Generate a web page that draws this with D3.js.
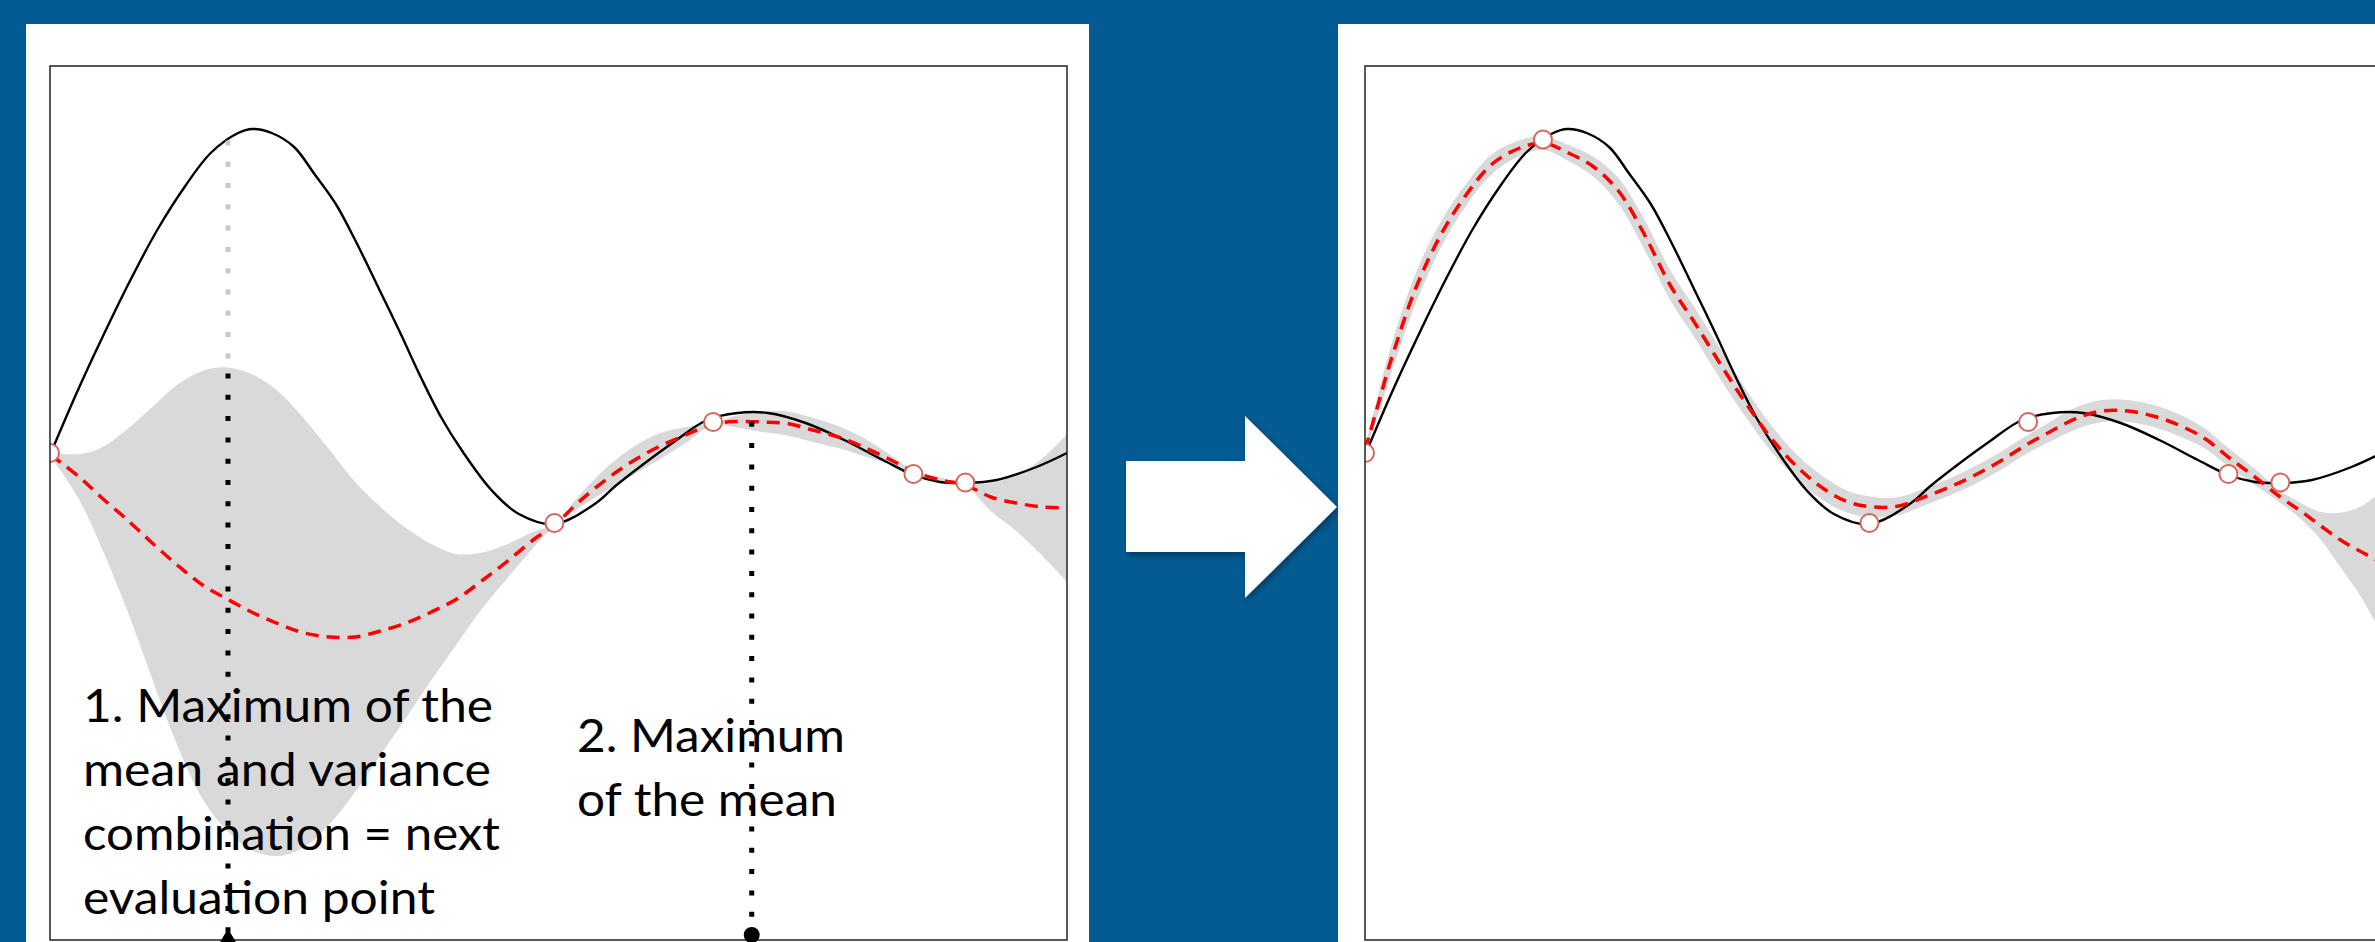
<!DOCTYPE html>
<html>
<head>
<meta charset="utf-8">
<script src="https://cdn.jsdelivr.net/npm/d3@7"></script>
<style>
	html, body { margin: 0; padding: 0; background: #045a92; overflow: hidden; }
	svg { display: block; }
</style>
</head>
<body>
<div id="viz"></div>
<script>
// true objective function (black line)
var trueX = [0, 0.0275, 0.054, 0.0796, 0.106, 0.133, 0.158, 0.185, 0.199, 0.218, 0.240, 0.260, 0.281, 0.302, 0.324, 0.344, 0.365, 0.385, 0.406, 0.434, 0.461, 0.496, 0.537, 0.556, 0.585, 0.612, 0.646, 0.676, 0.706, 0.743, 0.781, 0.819, 0.849, 0.875, 0.902, 0.931, 0.970, 1.0];
var trueY = [0.005, 0.33, 0.62, 0.885, 1.135, 1.35, 1.515, 1.615, 1.635, 1.615, 1.545, 1.41, 1.26, 1.06, 0.83, 0.62, 0.39, 0.19, 0.02, -0.17, -0.29, -0.34, -0.235, -0.15, -0.035, 0.065, 0.18, 0.215, 0.215, 0.165, 0.08, -0.02, -0.095, -0.13, -0.135, -0.12, -0.055, 0.015];

// evaluated points
var obsX = [0, 0.496, 0.652, 0.849, 0.900];
var obsY = [0.015, -0.335, 0.17, -0.09, -0.1325];
var nextX = 0.175;
var nextY = 1.5825;
var meanMaxX = 0.690;

// GP posterior, before the new point (left)
var gridA = [0, 0.01, 0.03, 0.05, 0.075, 0.1, 0.125, 0.15, 0.175, 0.2, 0.225, 0.25, 0.275, 0.3, 0.325, 0.35, 0.375, 0.4, 0.425, 0.45, 0.475, 0.496, 0.52, 0.55, 0.575, 0.6, 0.625, 0.652, 0.675, 0.7, 0.725, 0.75, 0.775, 0.8, 0.825, 0.849, 0.875, 0.9, 0.925, 0.95, 0.975, 1.0];
var meanA = [0.005, -0.03, -0.11, -0.205, -0.315, -0.4325, -0.545, -0.645, -0.7175, -0.785, -0.84, -0.885, -0.905, -0.905, -0.875, -0.835, -0.78, -0.715, -0.6225, -0.525, -0.42, -0.345, -0.23, -0.105, -0.02, 0.05, 0.105, 0.16, 0.1725, 0.17, 0.1625, 0.13, 0.095, 0.045, -0.015, -0.0775, -0.12, -0.145, -0.205, -0.235, -0.255, -0.26];
var sdA = [0.005, 0.04, 0.12, 0.245, 0.445, 0.675, 0.9, 1.07, 1.16, 1.19, 1.16, 1.07, 0.935, 0.775, 0.62, 0.475, 0.34, 0.225, 0.14, 0.085, 0.04, 0.005, 0.03, 0.06, 0.07, 0.065, 0.04, 0.005, 0.03, 0.05, 0.06, 0.06, 0.055, 0.045, 0.025, 0.005, 0.0125, 0.005, 0.07, 0.14, 0.24, 0.37];

// GP posterior, after the new point (right)
var gridB = [0, 0.0125, 0.025, 0.05, 0.075, 0.1, 0.125, 0.15, 0.175, 0.2, 0.225, 0.25, 0.275, 0.3, 0.325, 0.35, 0.375, 0.4, 0.425, 0.45, 0.475, 0.5, 0.525, 0.55, 0.575, 0.6, 0.625, 0.65, 0.675, 0.7, 0.725, 0.75, 0.775, 0.8, 0.825, 0.85, 0.875, 0.9, 0.92, 0.94, 0.96, 0.98, 1.0];
var meanB = [0.03, 0.25, 0.47, 0.84, 1.11, 1.31, 1.46, 1.535, 1.565, 1.515, 1.445, 1.32, 1.105, 0.855, 0.66, 0.455, 0.26, 0.085, -0.055, -0.16, -0.23, -0.255, -0.25, -0.205, -0.155, -0.095, -0.025, 0.055, 0.125, 0.19, 0.225, 0.225, 0.2, 0.155, 0.09, -0.01, -0.105, -0.205, -0.275, -0.35, -0.423, -0.48, -0.535];
var sdB = [0.01, 0.05, 0.07, 0.075, 0.065, 0.055, 0.05, 0.04, 0.035, 0.04, 0.05, 0.065, 0.075, 0.075, 0.075, 0.075, 0.07, 0.065, 0.06, 0.06, 0.055, 0.05, 0.045, 0.0425, 0.0425, 0.045, 0.045, 0.045, 0.05, 0.055, 0.055, 0.055, 0.055, 0.055, 0.05, 0.045, 0.04, 0.03, 0.04, 0.07, 0.14, 0.23, 0.36];

var labelLeft = ["1. Maximum of the", "mean and variance", "combination = next", "evaluation point"];
var labelRight = ["2. Maximum", "of the mean"];

var WIDTH = 2375;
var HEIGHT = 942;
var BLUE = "#045a92";
var FRAME_TOP = 66;
var FRAME_BOTTOM = 940;
var FRAME_W = 1017;

var yScale = d3.scaleLinear().domain([-2.42, 1.95]).range([FRAME_BOTTOM, FRAME_TOP]);
var xLeft = d3.scaleLinear().domain([0, 1]).range([50, 50 + FRAME_W]);
var xRight = d3.scaleLinear().domain([0, 1]).range([1365, 1365 + FRAME_W]);

// linear lookup in a sampled series
function interp(xs, ys, x) {
	var i = d3.bisectLeft(xs, x);
	if (i <= 0) return ys[0];
	if (i >= xs.length) return ys[ys.length - 1];
	var t = (x - xs[i - 1]) / (xs[i] - xs[i - 1]);
	return ys[i - 1] + t * (ys[i] - ys[i - 1]);
}

function zipSeries(xs, ys, sds) {
	return xs.map(function(x, i) {
		return { x: x, y: ys[i], s: sds ? sds[i] : 0 };
	});
}

var svg = d3.select("#viz").append("svg")
	.attr("width", WIDTH)
	.attr("height", HEIGHT)
	.attr("viewBox", "0 0 " + WIDTH + " " + HEIGHT);

svg.append("rect").attr("width", WIDTH).attr("height", HEIGHT).attr("fill", BLUE);

var defs = svg.append("defs");
var shadow = defs.append("filter").attr("id", "shadow")
	.attr("x", "-20%").attr("y", "-20%").attr("width", "140%").attr("height", "140%");
shadow.append("feDropShadow")
	.attr("dx", 2).attr("dy", 3).attr("stdDeviation", 3)
	.attr("flood-color", "#000").attr("flood-opacity", 0.35);

// white slide panels
svg.append("rect").attr("x", 26).attr("y", 24).attr("width", 1063).attr("height", HEIGHT - 24).attr("fill", "#fff");
svg.append("rect").attr("x", 1338).attr("y", 24).attr("width", WIDTH - 1338).attr("height", HEIGHT - 24).attr("fill", "#fff");

// arrow between panels
var arrowPath = "M 1126 461 L 1245 461 L 1245 416 L 1337 507 L 1245 598 L 1245 552 L 1126 552 Z";
svg.append("path").attr("d", arrowPath).attr("fill", "#fff").attr("filter", "url(#shadow)");

function drawPanel(id, xScale, grid, mean, sd) {
	var x0 = xScale.range()[0];

	defs.append("clipPath").attr("id", id)
		.append("rect")
		.attr("x", x0).attr("y", FRAME_TOP)
		.attr("width", FRAME_W).attr("height", FRAME_BOTTOM - FRAME_TOP);

	var g = svg.append("g").attr("clip-path", "url(#" + id + ")");

	var post = zipSeries(grid, mean, sd);

	var band = d3.area()
		.x(function(d) { return xScale(d.x); })
		.y0(function(d) { return yScale(d.y - d.s); })
		.y1(function(d) { return yScale(d.y + d.s); })
		.curve(d3.curveCatmullRom.alpha(0.5));

	g.append("path")
		.attr("d", band(post))
		.attr("fill", "#d9d9d9");

	var line = d3.line()
		.x(function(d) { return xScale(d.x); })
		.y(function(d) { return yScale(d.y); })
		.curve(d3.curveCatmullRom.alpha(0.5));

	g.append("path")
		.attr("d", line(zipSeries(trueX, trueY)))
		.attr("fill", "none")
		.attr("stroke", "#000")
		.attr("stroke-width", 2.4);

	g.append("path")
		.attr("d", line(post))
		.attr("fill", "none")
		.attr("stroke", "#ff0000")
		.attr("stroke-width", 3.5)
		.attr("stroke-dasharray", "13 8");

	return g;
}

function drawPoints(g, xScale, xs, ys) {
	g.selectAll("circle.obs")
		.data(d3.zip(xs, ys))
		.enter().append("circle")
		.attr("class", "obs")
		.attr("cx", function(d) { return xScale(d[0]); })
		.attr("cy", function(d) { return yScale(d[1]); })
		.attr("r", 9)
		.attr("fill", "#fff")
		.attr("stroke", "#d6665c")
		.attr("stroke-width", 2);
}

function drawFrame(xScale) {
	svg.append("rect")
		.attr("x", xScale.range()[0])
		.attr("y", FRAME_TOP)
		.attr("width", FRAME_W)
		.attr("height", FRAME_BOTTOM - FRAME_TOP)
		.attr("fill", "none")
		.attr("stroke", "#222")
		.attr("stroke-width", 1.5);
}

// ---- left: before the new evaluation
var left = drawPanel("clipLeft", xLeft, gridA, meanA, sdA);

// dotted line at the next evaluation point
var nx = xLeft(nextX);
var trueAtNext = interp(trueX, trueY, nextX);
var upperAtNext = interp(gridA, meanA, nextX) + interp(gridA, sdA, nextX);
left.append("line")
	.attr("x1", nx).attr("x2", nx)
	.attr("y1", yScale(trueAtNext)).attr("y2", yScale(upperAtNext))
	.attr("stroke", "#c8c8c8").attr("stroke-width", 5).attr("stroke-dasharray", "5 16.3");
left.append("line")
	.attr("x1", nx).attr("x2", nx)
	.attr("y1", yScale(upperAtNext) + 6).attr("y2", FRAME_BOTTOM)
	.attr("stroke", "#000").attr("stroke-width", 5).attr("stroke-dasharray", "5 16.3");

// dotted line at the max of the mean
var mx = xLeft(meanMaxX);
left.append("line")
	.attr("x1", mx).attr("x2", mx)
	.attr("y1", yScale(interp(gridA, meanA, meanMaxX))).attr("y2", FRAME_BOTTOM)
	.attr("stroke", "#000").attr("stroke-width", 5).attr("stroke-dasharray", "5 16.3");

drawPoints(left, xLeft, obsX, obsY);
drawFrame(xLeft);

// markers on the bottom axis
svg.append("path")
	.attr("d", d3.symbol().type(d3.symbolTriangle).size(120)())
	.attr("transform", "translate(" + nx + "," + (FRAME_BOTTOM - 2) + ")")
	.attr("fill", "#000");
svg.append("circle")
	.attr("cx", mx).attr("cy", FRAME_BOTTOM - 5).attr("r", 8)
	.attr("fill", "#000");

// annotation text
function drawLabel(lines, x, y0, step, widths) {
	var t = svg.append("g")
		.attr("font-family", "Lato, 'Open Sans', sans-serif")
		.attr("font-size", 46)
		.attr("fill", "#000");
	lines.forEach(function(s, i) {
		t.append("text")
			.attr("x", x)
			.attr("y", y0 + i * step)
			.attr("textLength", widths[i])
			.attr("lengthAdjust", "spacingAndGlyphs")
			.text(s);
	});
}
drawLabel(labelLeft, 83, 722, 64, [410, 408, 417, 352]);
drawLabel(labelRight, 577, 752, 64, [268, 260]);

// ---- right: after the new evaluation
var right = drawPanel("clipRight", xRight, gridB, meanB, sdB);
drawPoints(right, xRight, obsX.concat([nextX]), obsY.concat([nextY]));
drawFrame(xRight);
</script>
</body>
</html>
